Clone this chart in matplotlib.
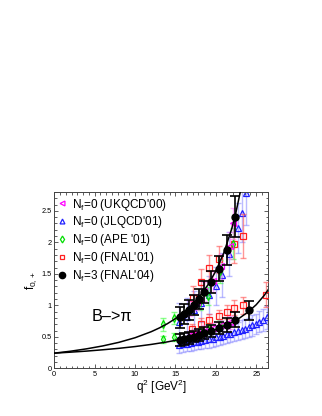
import matplotlib
matplotlib.use("Agg")
import matplotlib.pyplot as plt
from matplotlib.lines import Line2D
from matplotlib.ticker import MultipleLocator, AutoMinorLocator

plt.rcParams['font.family'] = ['Liberation Sans', 'DejaVu Sans']
plt.rcParams['mathtext.fontset'] = 'custom'
plt.rcParams['mathtext.rm'] = 'Liberation Sans'
plt.rcParams['mathtext.it'] = 'Liberation Sans:italic'

# fit curves
q2_fplus = [0, 2, 4, 6, 8, 10, 12, 13, 14, 15, 16, 17, 18, 19, 20, 21, 22, 22.5, 23, 23.2]
f_plus = [0.24, 0.271, 0.309, 0.355, 0.412, 0.485, 0.581, 0.640, 0.708, 0.789, 0.885,
          1.001, 1.143, 1.320, 1.543, 1.835, 2.228, 2.480, 2.78, 2.92]
q2_fzero = [0, 2, 4, 6, 8, 10, 12, 14, 16, 18, 20, 22, 23, 24, 25, 26, 26.5]
f_zero = [0.24, 0.256, 0.273, 0.294, 0.317, 0.345, 0.379, 0.419, 0.469, 0.532, 0.615,
          0.729, 0.803, 0.895, 1.009, 1.158, 1.25]

# FNAL'04 (Nf=3)
q2_fnal04 = [15.57, 16.1, 16.7, 17.3, 17.97, 18.6, 19.4, 20.4, 21.4, 22.4]
fp_fnal04 = [0.81, 0.866, 0.92, 1.0, 1.10, 1.21, 1.37, 1.58, 1.88, 2.41]
fp_fnal04_err = [0.17, 0.16, 0.16, 0.16, 0.16, 0.17, 0.18, 0.2, 0.24, 0.32]
q2_fnal04_0 = [15.57, 16.1, 16.7, 17.3, 17.97, 18.6, 19.4, 20.4, 21.4, 22.4, 24.05]
f0_fnal04 = [0.45, 0.467, 0.483, 0.50, 0.53, 0.56, 0.59, 0.64, 0.69, 0.77, 0.92]
f0_fnal04_err = [0.1, 0.09, 0.09, 0.09, 0.09, 0.09, 0.1, 0.1, 0.11, 0.12, 0.15]

# JLQCD'01
q2_jlqcd = [15.5, 16.4, 17.3, 18.2, 19.1, 20.0, 20.8, 21.6, 22.7, 23.2, 23.8]
fp_jlqcd = [0.74, 0.82, 0.92, 1.03, 1.16, 1.31, 1.48, 1.82, 2.23, 2.46, 2.78]
fp_jlqcd_err = [0.3, 0.3, 0.3, 0.3, 0.3, 0.3, 0.35, 0.35, 0.4, 0.45, 0.5]
q2_jlqcd_0 = [15.5, 16.0, 16.4, 16.9, 17.3, 17.8, 18.2, 18.7, 19.1, 19.6, 20.0, 20.5, 20.9,
              21.4, 21.8, 22.3, 22.7, 23.2, 23.6, 24.1, 24.5, 25.0, 25.4, 25.9, 26.3]
f0_jlqcd = [0.37, 0.38, 0.39, 0.40, 0.41, 0.42, 0.43, 0.45, 0.46, 0.47, 0.49, 0.50, 0.52,
            0.54, 0.55, 0.57, 0.59, 0.61, 0.63, 0.65, 0.68, 0.71, 0.74, 0.77, 0.81]
f0_jlqcd_err = [0.12, 0.12, 0.12, 0.12, 0.12, 0.12, 0.12, 0.13, 0.13, 0.13, 0.13, 0.13, 0.13,
                0.14, 0.14, 0.14, 0.14, 0.15, 0.15, 0.15, 0.16, 0.16, 0.17, 0.17, 0.18]

# FNAL'01
q2_fnal01 = [17.15, 18.2, 19.2, 20.35, 22.3, 23.35]
fp_fnal01 = [1.12, 1.37, 1.60, 1.73, 1.98, 2.10]
fp_fnal01_err = [0.18, 0.2, 0.2, 0.22, 0.3, 0.35]
q2_fnal01_0 = [17.1, 18.2, 19.2, 20.35, 21.4, 22.3, 23.35, 26.2]
f0_fnal01 = [0.63, 0.71, 0.77, 0.83, 0.89, 0.96, 1.0, 1.17]
f0_fnal01_err = [0.08, 0.09, 0.1, 0.1, 0.11, 0.12, 0.13, 0.2]

# APE'01
q2_ape = [13.5, 14.8, 18.0, 19.0, 20.5, 22.1]
fp_ape = [0.70, 0.80, 1.05, 1.15, 1.54, 1.98]
fp_ape_err = [0.1, 0.1, 0.12, 0.14, 0.18, 0.25]
q2_ape_0 = [13.5, 14.8, 18.0, 19.0, 20.5]
f0_ape = [0.46, 0.50, 0.57, 0.62, 0.68]
f0_ape_err = [0.06, 0.06, 0.07, 0.08, 0.09]

# UKQCD'00
q2_ukqcd = [16.8, 17.7, 18.6, 19.6, 20.6, 21.7, 22.1]
fp_ukqcd = [0.95, 1.05, 1.22, 1.38, 1.62, 1.95, 2.3]
fp_ukqcd_err = [0.12, 0.13, 0.15, 0.17, 0.2, 0.22, 0.25]
q2_ukqcd_0 = [16.8, 17.7, 18.6, 19.6, 20.6, 21.7]
f0_ukqcd = [0.53, 0.56, 0.60, 0.64, 0.68, 0.73]
f0_ukqcd_err = [0.07, 0.07, 0.08, 0.08, 0.09, 0.1]

labels = ["N$_\\mathrm{f}$=0 (UKQCD'00)", "N$_\\mathrm{f}$=0 (JLQCD'01)",
          "N$_\\mathrm{f}$=0 (APE '01)", "N$_\\mathrm{f}$=0 (FNAL'01)",
          "N$_\\mathrm{f}$=3 (FNAL'04)"]

fig = plt.figure(figsize=(3.22, 4.16), dpi=100)
ax = fig.add_axes([0.1686, 0.1147, 0.6646, 0.4238])


def points(x, y, err, color, marker, ms, ecolor, ealpha, cap, zorder):
    ax.errorbar(x, y, yerr=err, fmt='none', ecolor=ecolor, alpha=ealpha,
                elinewidth=1.0, capsize=cap, capthick=1.0, zorder=zorder)
    ax.plot(x, y, linestyle='none', marker=marker, ms=ms, mfc='none', mec=color,
            mew=0.9, zorder=zorder + 0.5)


points(q2_jlqcd_0, f0_jlqcd, f0_jlqcd_err, '#2020ff', '^', 4, '#6a6aff', 0.45, 2.5, 2)
points(q2_jlqcd, fp_jlqcd, fp_jlqcd_err, '#2020ff', '^', 4, '#6a6aff', 0.45, 2.5, 2)
points(q2_fnal01_0, f0_fnal01, f0_fnal01_err, '#ff2020', 's', 4, '#ff5050', 0.6, 2.5, 3)
points(q2_fnal01, fp_fnal01, fp_fnal01_err, '#ff2020', 's', 4, '#ff5050', 0.6, 2.5, 3)
points(q2_ape_0, f0_ape, f0_ape_err, '#00dd00', 'd', 4, '#40ff40', 0.6, 2.5, 4)
points(q2_ape, fp_ape, fp_ape_err, '#00dd00', 'd', 4, '#40ff40', 0.6, 2.5, 4)
points(q2_ukqcd_0, f0_ukqcd, f0_ukqcd_err, '#ff00ff', '<', 4, '#ff60ff', 0.5, 2.5, 4)
points(q2_ukqcd, fp_ukqcd, fp_ukqcd_err, '#ff00ff', '<', 4, '#ff60ff', 0.5, 2.5, 4)

ax.plot(q2_fplus, f_plus, color='black', lw=1.1, zorder=6)
ax.plot(q2_fzero, f_zero, color='black', lw=1.1, zorder=6)

for x, y, e in [(q2_fnal04, fp_fnal04, fp_fnal04_err), (q2_fnal04_0, f0_fnal04, f0_fnal04_err)]:
    ax.errorbar(x, y, yerr=e, fmt='o', color='black', ms=5, elinewidth=1.2,
                capsize=3.5, capthick=1.2, zorder=7)

ax.text(4.6, 0.82, "B\u2013>\u03c0", fontsize=11.7, va='center', ha='left')

ax.set_xlim(0, 26.5)
ax.set_ylim(0, 2.8)
ax.xaxis.set_major_locator(MultipleLocator(5))
ax.xaxis.set_minor_locator(AutoMinorLocator(7))
ax.yaxis.set_major_locator(MultipleLocator(0.5))
ax.yaxis.set_minor_locator(AutoMinorLocator(5))
ax.tick_params(which='both', direction='in', top=True, right=True, labelsize=5.3,
               width=0.6, color='#444444', pad=2)
ax.tick_params(which='major', length=3)
ax.tick_params(which='minor', length=1.8)
ax.set_yticks([0, 0.5, 1, 1.5, 2, 2.5])
ax.set_yticklabels(['0', '0.5', '1', '1.5', '2', '2.5'])
for s in ax.spines.values():
    s.set_linewidth(0.7)
    s.set_color('#444444')

ax.set_xlabel("q$^2$ [GeV$^2$]", fontsize=8.5, labelpad=0)
ax.set_ylabel("f$_{0,+}$", fontsize=8.5, labelpad=2)

handles = [
    Line2D([], [], ls='none', marker='<', ms=3.5, mfc='none', mec='#ff00ff', mew=0.9),
    Line2D([], [], ls='none', marker='^', ms=3.5, mfc='none', mec='#2020ff', mew=0.9),
    Line2D([], [], ls='none', marker='d', ms=3.5, mfc='none', mec='#00dd00', mew=0.9),
    Line2D([], [], ls='none', marker='s', ms=3.5, mfc='none', mec='#ff2020', mew=0.9),
    Line2D([], [], ls='none', marker='o', ms=4.5, color='black'),
]
ax.legend(handles, labels, loc='upper left', bbox_to_anchor=(0.018, 0.974), frameon=False,
          fontsize=8.5, handlelength=0.6, handletextpad=0.54, labelspacing=0.15,
          borderaxespad=0, borderpad=0)

fig.savefig("out.png", dpi=100)
